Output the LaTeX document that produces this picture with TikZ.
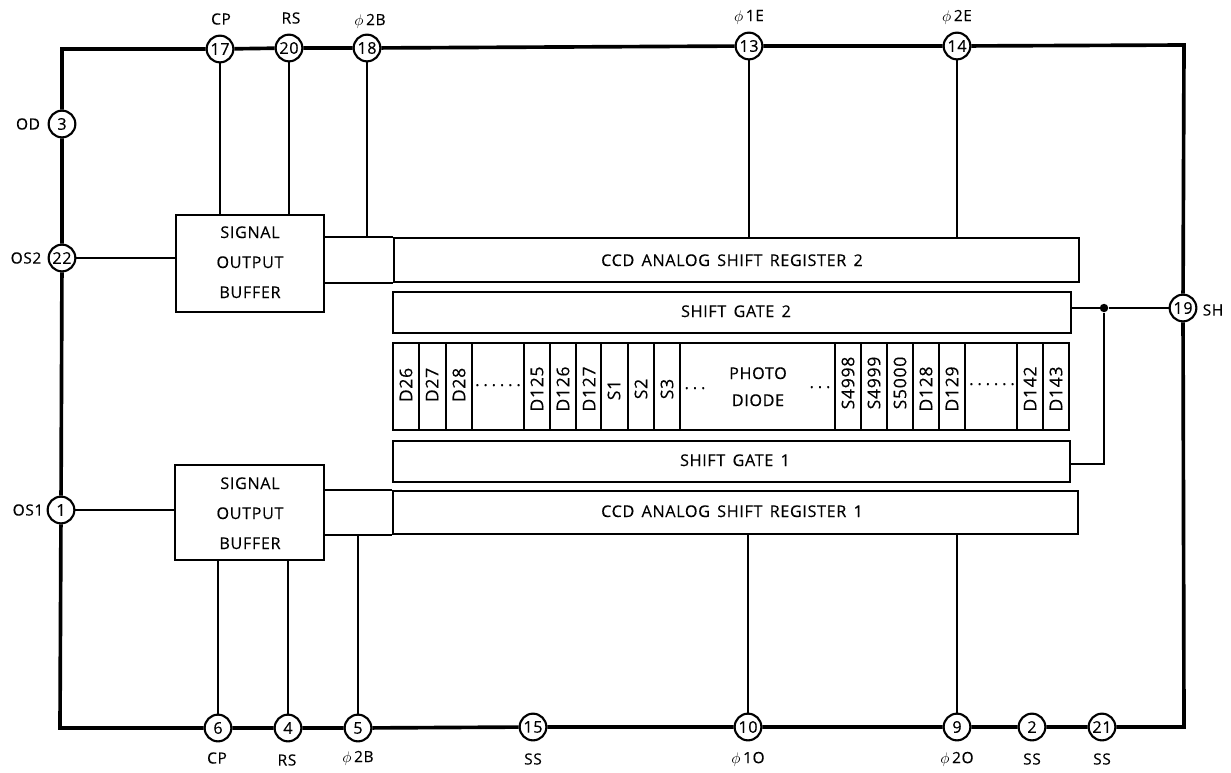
\documentclass[tikz,border=0pt]{standalone}
\usepackage{fontspec}
\setmainfont[LetterSpace=4,WordSpace=1.5,FakeBold=0.3]{Open Sans}
\newcommand{\cellgap}{.\kern2.8pt}
\begin{document}
\begin{tikzpicture}[x=0.025cm,y=-0.025cm,
    pinnode/.style={draw,circle,line width=1.5pt,fill=white,minimum size=19pt,inner sep=0pt,font=\fontsize{11.5}{11.5}\selectfont},
    label/.style={inner sep=0pt,font=\fontsize{11}{11}\selectfont},
    blocktext/.style={inner sep=0pt,anchor=base,font=\fontsize{11.5}{11.5}\selectfont},
    blockbox/.style={draw,line width=1.3pt,inner sep=0pt},
    cellname/.style={inner sep=0pt,rotate=90,font=\fontsize{12.5}{12.5}\selectfont},
    dotrow/.style={inner sep=0pt,anchor=base,font=\fontsize{11.5}{11.5}\selectfont},
    outline/.style={line width=2.6pt,line join=miter},
    lead/.style={line width=1.0pt},
    body/.style={line width=1.3pt}]
  \useasboundingbox (0,0) rectangle (1231,772);
  % pins
  \foreach \n/\x/\y in {17/220/49, 20/289/48, 18/367/48, 13/749/46, 14/957/46, 3/62/124, 22/62/258, 1/61/510, 19/1183/308, 6/218/728, 4/288/728, 5/358/728, 15/533/727, 10/748/727, 9/957/727, 2/1032/727, 21/1102/727}
    \node[pinnode] (p\n) at (\x,\y) {\n};
  % package outline
  \coordinate (cornerTL) at (62,49);
  \coordinate (cornerTR) at (1184,45);
  \coordinate (cornerBR) at (1184,727);
  \coordinate (cornerBL) at (60,728);
  \draw[outline] (p3) -- (cornerTL) -- (p17) -- (p20) -- (p18) -- (p13) -- (p14) -- (cornerTR) -- (p19) -- (cornerBR) -- (p21) -- (p2) -- (p9) -- (p10) -- (p15) -- (p5) -- (p4) -- (p6) -- (cornerBL) -- (p1) -- (p22) -- (p3);
  % buffers
  \node[blockbox,minimum width=105.5pt,minimum height=68.5pt] (buf2) at (250,263.5) {};
  \node[blockbox,minimum width=105.5pt,minimum height=67.5pt] (buf1) at (249.5,512.5) {};
  \foreach \b/\y in {buf2/238, buf1/489}{
    \node[blocktext] (\b a) at (250,\y) {SIGNAL};
    \node[blocktext] (\b b) at (250,{\y+30}) {OUTPUT};
    \node[blocktext] (\b c) at (250,{\y+60}) {BUFFER};
  }
  % registers and gates
  \node[blockbox,minimum width=487pt,minimum height=31.3pt] (reg2) at (736.5,260) {};
  \node[blockbox,minimum width=482pt,minimum height=29pt] (gate2) at (732,312.5) {};
  \node[blockbox,minimum width=482pt,minimum height=29pt] (gate1) at (731.5,461.5) {};
  \node[blockbox,minimum width=487pt,minimum height=31pt] (reg1) at (735.5,512.5) {};
  \node[blocktext] (reg2name) at (732,266) {CCD ANALOG SHIFT REGISTER 2};
  \node[blocktext] (gate2name) at (736,317) {SHIFT GATE 2};
  \node[blocktext] (gate1name) at (735,466) {SHIFT GATE 1};
  \node[blocktext] (reg1name) at (732,517) {CCD ANALOG SHIFT REGISTER 1};
  % transfer stubs
  \draw[body] (buf2.east |- reg2.north) -- (reg2.north west);
  \draw[body] (buf2.east |- reg2.south) -- (reg2.south west);
  \draw[body] (buf1.east |- reg1.north) -- (reg1.north west);
  \draw[body] (buf1.east |- reg1.south) -- (reg1.south west);
  % cells
  \node[blockbox,minimum width=481pt,minimum height=61.9pt] (cells) at (731,386.5) {};
  \foreach \x in {419,446,472,524,550,576,601,628,654,680,835,861,887,913,939,965,1017,1043}
    \draw[body] (\x,343) -- (\x,430);
  \foreach \x/\y/\t in {406/385/D26, 432/385/D27, 459/385/D28, 537/389/D125, 563/389/D126, 589/389/D127, 614/390/S1, 641/389/S2, 667/389/S3, 848/383/S4998, 874/383/S4999, 900/383/S5000, 926/389/D128, 952/389/D129, 1030/389/D142, 1056/389/D143}
    \node[cellname] (cell\t) at (\x,\y) {\t};
  \node[dotrow] (dotsA) at (498,386) {\cellgap\cellgap\cellgap\cellgap\cellgap.};
  \node[dotrow] (dotsB) at (695,389) {\cellgap\cellgap.};
  \node[dotrow] (dotsC) at (820,388) {\cellgap\cellgap.};
  \node[dotrow] (dotsD) at (992,385) {\cellgap\cellgap\cellgap\cellgap\cellgap.};
  \node[blocktext] (photo) at (758,379) {PHOTO};
  \node[blocktext] (diode) at (758,406) {DIODE};
  % leads
  \draw[lead] (p17) -- (p17 |- buf2.north);
  \draw[lead] (p20) -- (p20 |- buf2.north);
  \draw[lead] (p18) -- (p18 |- reg2.north);
  \draw[lead] (p13) -- (p13 |- reg2.north);
  \draw[lead] (p14) -- (p14 |- reg2.north);
  \draw[lead] (p22) -- (buf2.west |- p22);
  \draw[lead] (p1) -- (buf1.west |- p1);
  \draw[lead] (p6) -- (p6 |- buf1.south);
  \draw[lead] (p4) -- (p4 |- buf1.south);
  \draw[lead] (p5) -- (p5 |- reg1.south);
  \draw[lead] (p10) -- (p10 |- reg1.south);
  \draw[lead] (p9) -- (p9 |- reg1.south);
  % shift gate feed
  \node[circle,fill,inner sep=0pt,minimum size=6pt] (jct) at (1104,308) {};
  \coordinate (feed) at (1070,464);
  \draw[lead] (gate2.east |- p19) -- (jct) -- (p19);
  \draw[lead] (feed) -- (jct |- feed) -- (jct);
  % pin names
  \foreach \x/\y/\t/\m in {221/19/CP/cpT, 291/18/RS/rsT, 217/758/CP/cpB, 287/760/RS/rsB, 533/759/SS/ssA, 1032/759/SS/ssB, 1102/759/SS/ssC, 28/124/OD/od, 26/258/OS2/osB, 28/510/OS1/osA, 1213/310/SH/sh}
    \node[label] (\m) at (\x,\y) {\t};
  \foreach \x/\y/\t/\m in {370/21/2B/phiBT, 749/17/1E/phiET, 957/17/2E/phiFT, 358/758/2B/phiBB, 748/759/1O/phiOA, 957/759/2O/phiOB}
    \node[label] (\m) at (\x,\y) {$\phi$\,\t};
\end{tikzpicture}
\end{document}
